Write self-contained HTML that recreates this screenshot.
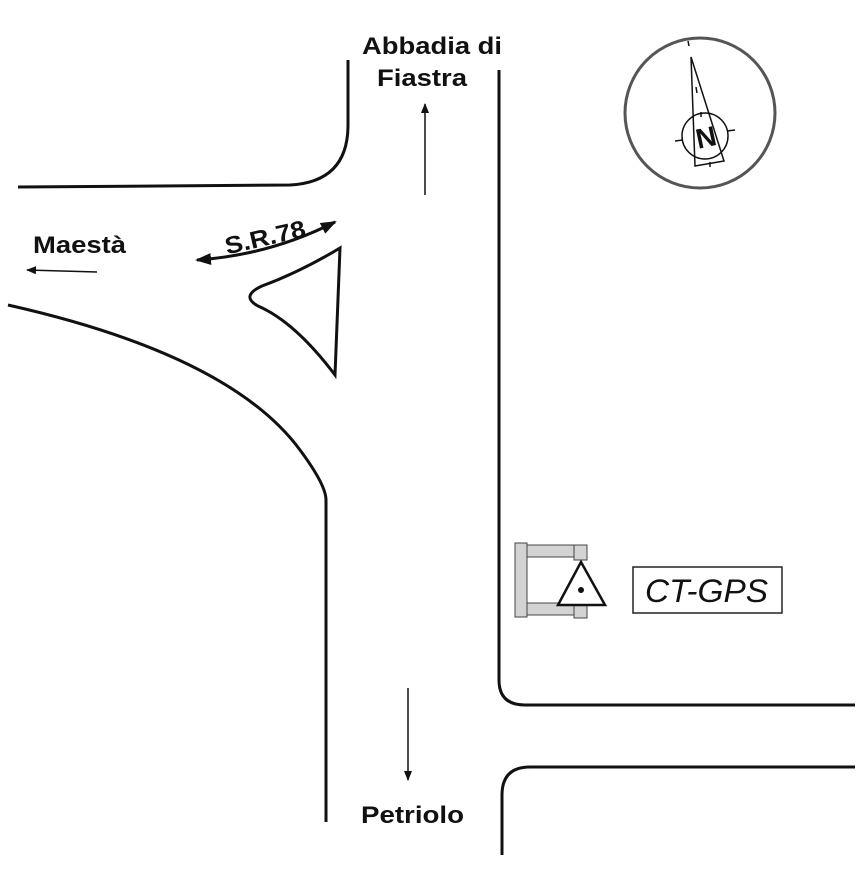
<!DOCTYPE html>
<html><head><meta charset="utf-8"><style>html,body{margin:0;padding:0;background:#fff}</style></head>
<body>
<svg width="866" height="866" viewBox="0 0 866 866" xmlns="http://www.w3.org/2000/svg" font-family="Liberation Sans, sans-serif">
<defs>
<marker id="ah" markerWidth="10" markerHeight="8" refX="9" refY="4" orient="auto" markerUnits="userSpaceOnUse"><path d="M0,0 L10,4 L0,8 Z" fill="#111"/></marker>
<marker id="ah2" markerWidth="16" markerHeight="12" refX="14" refY="6" orient="auto" markerUnits="userSpaceOnUse"><path d="M0,0 L16,6 L0,12 Z" fill="#111"/></marker>
<marker id="ah2s" markerWidth="16" markerHeight="12" refX="2" refY="6" orient="auto" markerUnits="userSpaceOnUse"><path d="M16,0 L0,6 L16,12 Z" fill="#111"/></marker>
</defs>
<g fill="none" stroke="#111" stroke-width="3">
<path d="M18,187 L290,185 Q348,182 348,125 L348,60"/>
<path d="M8,305 Q230,355 300,450 Q326,485 326,500 L326,822"/>
<path d="M499,70 L499,680 Q499,705 525,705 L855,705"/>
<path d="M855,767 L530,767 Q502,767 502,795 L502,855"/>
<path d="M340,248 L335,375 Q295,322 258,306 Q240,296 262,286 Q300,272 340,248 Z"/>
<path d="M197,260 Q270,255 335,222" marker-end="url(#ah2)" marker-start="url(#ah2s)"/>
</g>
<g stroke="#111" stroke-width="1.5" fill="none">
<line x1="425" y1="195" x2="425" y2="104" marker-end="url(#ah)"/>
<line x1="97" y1="272" x2="27" y2="270" marker-end="url(#ah)"/>
<line x1="408" y1="688" x2="408" y2="780" marker-end="url(#ah)"/>
</g>
<g font-weight="bold" font-size="24" fill="#111">
<text x="362" y="54" textLength="140" lengthAdjust="spacingAndGlyphs">Abbadia di</text>
<text x="377" y="86" textLength="90" lengthAdjust="spacingAndGlyphs">Fiastra</text>
<text x="33" y="253" textLength="93" lengthAdjust="spacingAndGlyphs">Maestà</text>
<text x="361" y="823" textLength="103" lengthAdjust="spacingAndGlyphs">Petriolo</text>
<text x="224" y="246" textLength="82" lengthAdjust="spacingAndGlyphs" transform="rotate(-13 263 237)">S.R.78</text>
</g>
<circle cx="700" cy="113" r="75" fill="none" stroke="#555" stroke-width="3"/>
<g stroke="#111" stroke-width="1.5" fill="none">
<circle cx="705" cy="136" r="23"/>
<path d="M691,57 L724,161 L695,166 Z"/>
<line x1="688" y1="41" x2="689" y2="46"/>
<line x1="696" y1="87" x2="697" y2="93"/>
<line x1="675" y1="141" x2="683" y2="140"/>
<line x1="727" y1="131" x2="735" y2="130"/>
<line x1="710" y1="162" x2="710" y2="167"/>
<line x1="701" y1="112" x2="701" y2="117"/>
</g>
<text x="706" y="147" text-anchor="middle" font-weight="bold" font-size="28" fill="#111" transform="rotate(-12 706 137)">N</text>
<g fill="#d3d3d3" stroke="#444" stroke-width="1">
<rect x="527" y="545" width="60" height="12"/>
<rect x="527" y="603" width="60" height="12"/>
<rect x="574" y="545" width="13" height="15"/>
<rect x="574" y="603" width="13" height="15"/>
<rect x="515" y="543" width="12" height="74"/>
</g>
<path d="M558,605 L605,605 L581,562 Z" fill="#fff" stroke="#111" stroke-width="2.5"/>
<circle cx="581" cy="590" r="3" fill="#111"/>
<rect x="633" y="567" width="149" height="46" fill="#fff" stroke="#222" stroke-width="1.5"/>
<text x="645" y="602" font-style="italic" font-size="32" textLength="123" lengthAdjust="spacingAndGlyphs" fill="#111">CT-GPS</text>
</svg>
</body></html>
